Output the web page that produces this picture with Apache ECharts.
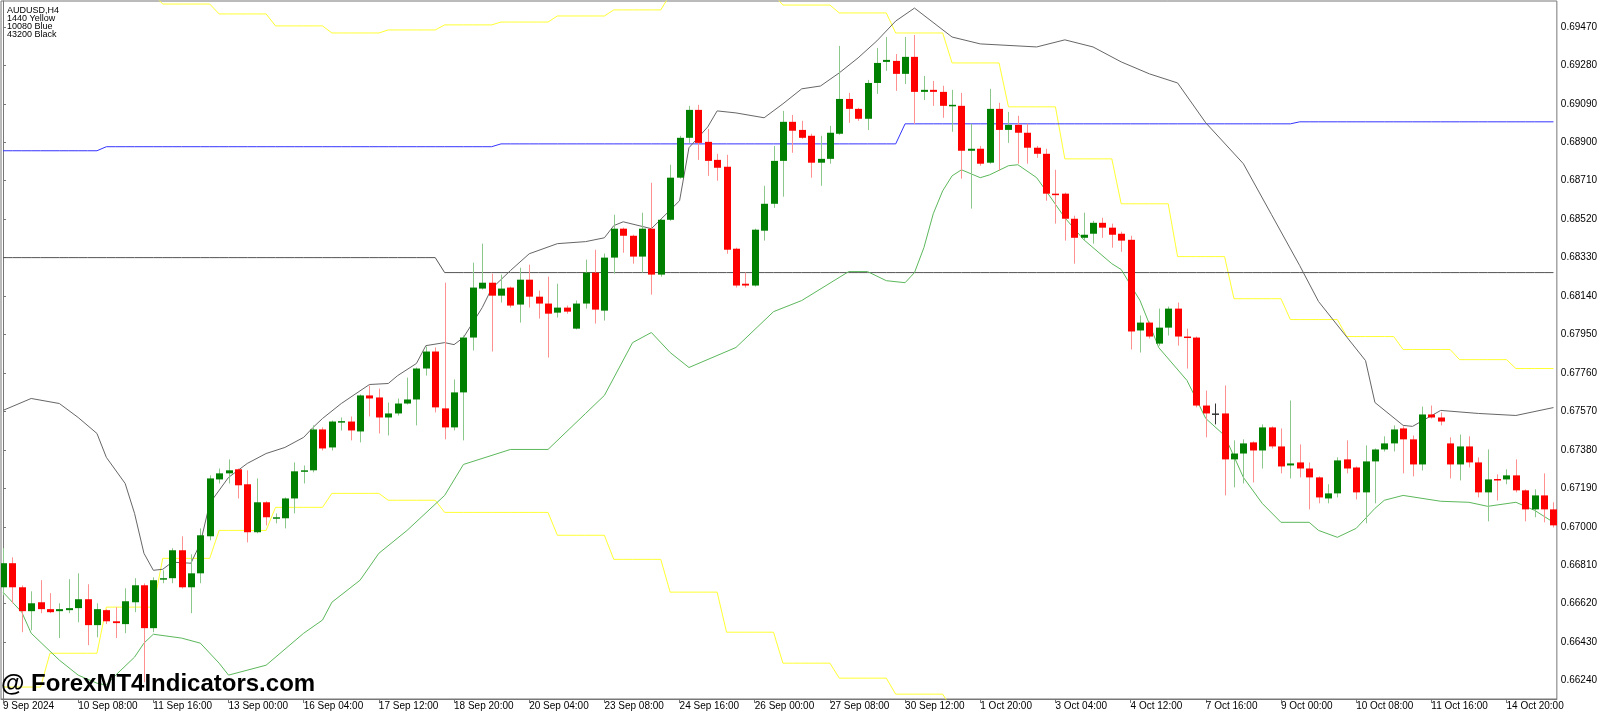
<!DOCTYPE html>
<html><head><meta charset="utf-8">
<script src="https://cdn.jsdelivr.net/npm/echarts@6/dist/echarts.min.js"></script>
<style>html,body{margin:0;padding:0;background:#fff}#c{width:1600px;height:713px}</style>
</head><body><div id="c"></div>
<script>
// [open, close, low, high]
const ohlc = [
[0.66701,0.66820,0.66662,0.66894],[0.66820,0.66701,0.66622,0.66849],[0.66701,0.66583,0.66479,0.66710],[0.66583,0.66622,0.66489,0.66681],
[0.66627,0.66593,0.66573,0.66736],[0.66593,0.66578,0.66573,0.66672],[0.66583,0.66593,0.66450,0.66622],[0.66588,0.66598,0.66573,0.66741],
[0.66598,0.66642,0.66528,0.66770],[0.66642,0.66514,0.66415,0.66716],[0.66514,0.66593,0.66454,0.66622],[0.66588,0.66533,0.66519,0.66593],
[0.66533,0.66524,0.66450,0.66603],[0.66519,0.66632,0.66474,0.66696],[0.66627,0.66711,0.66578,0.66746],[0.66711,0.66499,0.66232,0.66720],
[0.66499,0.66736,0.66479,0.66750],[0.66741,0.66746,0.66721,0.66785],[0.66746,0.66884,0.66721,0.66894],[0.66884,0.66701,0.66695,0.66953],
[0.66701,0.66770,0.66573,0.66864],[0.66770,0.66958,0.66721,0.66992],[0.66953,0.67239,0.66933,0.67254],[0.67234,0.67264,0.67214,0.67288],
[0.67264,0.67279,0.67214,0.67333],[0.67284,0.67205,0.67140,0.67288],[0.67210,0.66973,0.66923,0.67279],[0.66973,0.67121,0.66968,0.67239],
[0.67121,0.67047,0.67007,0.67126],[0.67042,0.67047,0.67017,0.67066],[0.67042,0.67140,0.66992,0.67145],[0.67140,0.67274,0.67066,0.67318],
[0.67274,0.67279,0.67214,0.67303],[0.67279,0.67481,0.67269,0.67501],[0.67481,0.67387,0.67377,0.67491],[0.67392,0.67520,0.67377,0.67525],
[0.67518,0.67522,0.67476,0.67540],[0.67520,0.67476,0.67427,0.67545],[0.67471,0.67649,0.67417,0.67654],[0.67649,0.67634,0.67545,0.67698],
[0.67639,0.67540,0.67461,0.67683],[0.67540,0.67560,0.67451,0.67614],[0.67560,0.67609,0.67550,0.67634],[0.67609,0.67629,0.67604,0.67737],
[0.67629,0.67782,0.67501,0.67787],[0.67782,0.67866,0.67747,0.67891],[0.67866,0.67590,0.67565,0.67886],[0.67585,0.67491,0.67432,0.68206],
[0.67491,0.67664,0.67476,0.67728],[0.67664,0.67935,0.67427,0.67945],[0.67935,0.68182,0.67871,0.68305],[0.68177,0.68206,0.68172,0.68399],
[0.68206,0.68142,0.67866,0.68251],[0.68142,0.68177,0.68108,0.68246],[0.68182,0.68093,0.68083,0.68187],[0.68098,0.68221,0.68009,0.68280],
[0.68221,0.68137,0.68083,0.68295],[0.68137,0.68103,0.68029,0.68167],[0.68103,0.68053,0.67836,0.68236],[0.68058,0.68083,0.68034,0.68201],
[0.68083,0.68063,0.68053,0.68093],[0.67979,0.68103,0.67975,0.68118],[0.68103,0.68256,0.68078,0.68320],[0.68256,0.68073,0.68004,0.68369],
[0.68068,0.68330,0.68019,0.68350],[0.68330,0.68473,0.68251,0.68542],[0.68473,0.68438,0.68354,0.68478],[0.68438,0.68335,0.68300,0.68443],
[0.68335,0.68473,0.68256,0.68552],[0.68473,0.68246,0.68147,0.68700],[0.68246,0.68517,0.68236,0.68522],[0.68517,0.68725,0.68512,0.68789],
[0.68725,0.68922,0.68720,0.68932],[0.68922,0.69060,0.68897,0.69080],[0.69060,0.68897,0.68813,0.69085],[0.68902,0.68808,0.68734,0.68966],
[0.68813,0.68774,0.68710,0.68843],[0.68779,0.68369,0.68349,0.68838],[0.68374,0.68192,0.68182,0.68379],[0.68201,0.68192,0.68182,0.68256],
[0.68192,0.68468,0.68187,0.68473],[0.68463,0.68596,0.68414,0.68685],[0.68596,0.68808,0.68576,0.68882],[0.68808,0.69001,0.68631,0.69055],
[0.69001,0.68957,0.68848,0.69035],[0.68961,0.68922,0.68917,0.69006],[0.68932,0.68799,0.68725,0.68942],[0.68799,0.68818,0.68685,0.68932],
[0.68818,0.68947,0.68794,0.68981],[0.68942,0.69114,0.68937,0.69376],[0.69114,0.69065,0.68996,0.69144],[0.69065,0.69016,0.69006,0.69070],
[0.69016,0.69193,0.68961,0.69208],[0.69193,0.69292,0.69139,0.69366],[0.69297,0.69307,0.69253,0.69420],[0.69302,0.69238,0.69154,0.69336],
[0.69238,0.69322,0.69188,0.69420],[0.69322,0.69149,0.68991,0.69430],[0.69149,0.69159,0.69109,0.69228],[0.69159,0.69149,0.69080,0.69203],
[0.69149,0.69080,0.69021,0.69179],[0.69080,0.69085,0.68952,0.69159],[0.69080,0.68858,0.68720,0.69144],[0.68858,0.68868,0.68572,0.68991],
[0.68868,0.68794,0.68784,0.68882],[0.68799,0.69065,0.68794,0.69164],[0.69065,0.68961,0.68759,0.69095],[0.68961,0.68986,0.68897,0.69050],
[0.68986,0.68947,0.68794,0.69031],[0.68947,0.68873,0.68794,0.68991],[0.68873,0.68843,0.68823,0.68882],[0.68843,0.68646,0.68611,0.68868],
[0.68646,0.68641,0.68498,0.68764],[0.68646,0.68522,0.68414,0.68651],[0.68522,0.68428,0.68300,0.68537],[0.68428,0.68443,0.68414,0.68552],
[0.68448,0.68502,0.68399,0.68512],[0.68502,0.68478,0.68428,0.68527],[0.68478,0.68443,0.68379,0.68498],[0.68448,0.68414,0.68359,0.68458],
[0.68418,0.67965,0.67876,0.68438],[0.67970,0.68009,0.67861,0.68044],[0.68009,0.67940,0.67930,0.68014],[0.67905,0.67984,0.67895,0.68078],
[0.67984,0.68078,0.67945,0.68088],[0.68078,0.67940,0.67895,0.68108],[0.67940,0.67935,0.67782,0.67979],[0.67935,0.67599,0.67590,0.67940],
[0.67599,0.67560,0.67442,0.67673],[0.67560,0.67560,0.67506,0.67609],[0.67560,0.67333,0.67155,0.67698],[0.67333,0.67362,0.67195,0.67427],
[0.67362,0.67412,0.67214,0.67432],[0.67417,0.67377,0.67219,0.67422],[0.67377,0.67491,0.67288,0.67506],[0.67491,0.67397,0.67387,0.67496],
[0.67397,0.67298,0.67264,0.67486],[0.67303,0.67313,0.67239,0.67624],[0.67318,0.67288,0.67244,0.67407],[0.67288,0.67244,0.67086,0.67318],
[0.67244,0.67145,0.67116,0.67249],[0.67140,0.67165,0.67116,0.67210],[0.67165,0.67328,0.67145,0.67343],[0.67333,0.67288,0.67264,0.67427],
[0.67293,0.67170,0.67135,0.67298],[0.67170,0.67323,0.67017,0.67402],[0.67323,0.67382,0.67116,0.67387],[0.67382,0.67412,0.67372,0.67447],
[0.67412,0.67481,0.67372,0.67501],[0.67486,0.67432,0.67264,0.67496],[0.67432,0.67308,0.67249,0.67451],[0.67308,0.67555,0.67278,0.67594],
[0.67555,0.67540,0.67535,0.67599],[0.67540,0.67520,0.67501,0.67565],[0.67412,0.67308,0.67239,0.67442],[0.67308,0.67397,0.67229,0.67456],
[0.67397,0.67318,0.67293,0.67447],[0.67318,0.67170,0.67145,0.67343],[0.67170,0.67234,0.67027,0.67382],[0.67236,0.67232,0.67130,0.67259],
[0.67234,0.67254,0.67210,0.67284],[0.67254,0.67180,0.67170,0.67333],[0.67180,0.67086,0.67027,0.67185],[0.67086,0.67155,0.67047,0.67185],
[0.67155,0.67086,0.67022,0.67264],[0.67086,0.67007,0.66997,0.67121]
];
// band lines: [barIndex, price]
const upperBand = [[0,0.67575],[3,0.67634],[6,0.67609],[8,0.67540],[10,0.67461],[11,0.67343],[13,0.67214],[14,0.67066],[15,0.66869],[16,0.66785],[17,0.66790],[18,0.66825],[20,0.66820],[21,0.66918],[22,0.67116],[24,0.67244],[26,0.67313],[28,0.67362],[30,0.67392],[32,0.67442],[33,0.67491],[34,0.67535],[36,0.67609],[39,0.67703],[41,0.67708],[42,0.67747],[44,0.67807],[45,0.67895],[47,0.67910],[48,0.67900],[49,0.67935],[51,0.68083],[52,0.68177],[54,0.68266],[56,0.68349],[59,0.68399],[62,0.68409],[64,0.68428],[65,0.68488],[66,0.68507],[69,0.68473],[72,0.68611],[73,0.68873],[75,0.68976],[76,0.69055],[78,0.69045],[81,0.69021],[83,0.69090],[85,0.69164],[87,0.69178],[89,0.69243],[91,0.69317],[93,0.69401],[95,0.69499],[97,0.69563],[101,0.69420],[104,0.69386],[110,0.69371],[113,0.69406],[116,0.69371],[119,0.69297],[122,0.69238],[125,0.69193],[128,0.68996],[132,0.68794],[135,0.68542],[138,0.68290],[140,0.68113],[145,0.67821],[146,0.67614],[149,0.67501],[150,0.67496],[153,0.67575],[157,0.67560],[161,0.67550],[165,0.67589]];
const lowerBand = [[0,0.66677],[2,0.66578],[3,0.66474],[6,0.66341],[8,0.66267],[10,0.66227],[11,0.66218],[12,0.66267],[14,0.66356],[15,0.66425],[16,0.66469],[19,0.66450],[21,0.66425],[23,0.66326],[24,0.66267],[28,0.66316],[32,0.66474],[34,0.66539],[35,0.66627],[38,0.66736],[40,0.66869],[43,0.66982],[47,0.67155],[49,0.67308],[54,0.67382],[58,0.67382],[62,0.67560],[64,0.67649],[67,0.67910],[69,0.67960],[71,0.67861],[73,0.67787],[78,0.67886],[82,0.68063],[85,0.68118],[90,0.68261],[92,0.68261],[94,0.68216],[96,0.68206],[97,0.68256],[98,0.68379],[99,0.68547],[100,0.68660],[101,0.68734],[102,0.68764],[104,0.68725],[105,0.68739],[107,0.68784],[108,0.68789],[110,0.68725],[111,0.68660],[113,0.68527],[115,0.68419],[118,0.68300],[119,0.68271],[121,0.68118],[123,0.67885],[126,0.67723],[128,0.67535],[130,0.67451],[132,0.67244],[134,0.67116],[136,0.67022],[139,0.67022],[140,0.66982],[142,0.66948],[144,0.66992],[146,0.67091],[147,0.67131],[149,0.67155],[153,0.67126],[156,0.67121],[158,0.67101],[161,0.67121],[163,0.67081],[165,0.67022]];
// step levels: [startBar, price]
const yellowHigh = [[0,0.6963],[17,0.69583],[23,0.69534],[29,0.69475],[35,0.69440],[41,0.69455],[47,0.69480],[53,0.69494],[59,0.69524],[65,0.69554],[71,0.6963],[83,0.69578],[89,0.69539],[95,0.69440],[101,0.69292],[107,0.69075],[113,0.68818],[119,0.68596],[125,0.68335],[131,0.68127],[137,0.68024],[143,0.67940],[149,0.67876],[155,0.67826],[161,0.67782]];
const yellowLow = [[0,0.66208],[5,0.66375],[11,0.66603],[17,0.66844],[23,0.66982],[29,0.67096],[35,0.67165],[41,0.67131],[47,0.67071],[59,0.66958],[65,0.66839],[71,0.66677],[77,0.66479],[83,0.66326],[89,0.66252],[95,0.66173],[101,0.6610]];
const blueLevel = [[0,0.68858],[11,0.68878],[53,0.68892],[96,0.68991],[138,0.69001]];
const blackLevel = [[0,0.68330],[47,0.68256]];
const xTickIdx = [0,8,16,24,32,40,48,56,64,72,80,88,96,104,112,120,128,136,144,152,160];
const xTickLabels = ['9 Sep 2024','10 Sep 08:00','11 Sep 16:00','13 Sep 00:00','16 Sep 04:00','17 Sep 12:00','18 Sep 20:00','20 Sep 04:00','23 Sep 08:00','24 Sep 16:00','26 Sep 00:00','27 Sep 08:00','30 Sep 12:00','1 Oct 20:00','3 Oct 04:00','4 Oct 12:00','7 Oct 16:00','9 Oct 00:00','10 Oct 08:00','11 Oct 16:00','14 Oct 20:00'];
const yTicks = [0.66240,0.66430,0.66620,0.66810,0.67000,0.67190,0.67380,0.67570,0.67760,0.67950,0.68140,0.68330,0.68520,0.68710,0.68900,0.69090,0.69280,0.69470];

const N = ohlc.length;
function expand(seg){
  const out=[];
  for(let s=0;s<seg.length;s++){
    const end = s+1<seg.length ? seg[s+1][0] : N;
    for(let i=seg[s][0];i<end;i++) out.push([i,seg[s][1]]);
  }
  return out;
}
const chart = echarts.init(document.getElementById('c'));
const F = 'Liberation Sans, Arial, sans-serif';
function lineS(data,color){return {type:'line',data,symbol:'none',lineStyle:{color,width:1},silent:true,z:2,clip:true,animation:false};}
chart.setOption({
  animation:false,
  backgroundColor:'#fff',
  grid:{left:0,right:37,top:1,bottom:14,show:true,borderColor:'#777',borderWidth:1},
  title:{text:'AUDUSD,H4\n1440 Yellow\n10080 Blue\n43200 Black',left:2,top:2,textStyle:{fontFamily:F,fontSize:9,fontWeight:'normal',lineHeight:8,color:'#000'}},
  graphic:[{type:'text',left:1,top:672,z:10,style:{text:'@ ForexMT4Indicators.com',font:'bold 24px '+F,fill:'#000'}}],
  xAxis:{type:'value',min:-0.21,max:165.36,splitLine:{show:false},
    axisLine:{show:true,onZero:false,lineStyle:{color:'#777'}},
    axisTick:{show:true,length:4,customValues:xTickIdx,lineStyle:{color:'#777'}},
    axisLabel:{customValues:xTickIdx,formatter:v=>xTickLabels[xTickIdx.indexOf(Math.round(v))]||'',align:'left',margin:2,fontSize:10,fontFamily:F,color:'#000'}},
  yAxis:{type:'value',position:'right',min:0.66149,max:0.69598,scale:true,splitLine:{show:false},
    axisLine:{show:true,lineStyle:{color:'#777'}},
    axisTick:{show:true,length:3,customValues:yTicks,lineStyle:{color:'#777'}},
    axisLabel:{customValues:yTicks,formatter:v=>v.toFixed(5),margin:4,fontSize:10,fontFamily:F,color:'#000'}},
  series:[
    lineS(expand(yellowHigh),'#ffff33'),
    lineS(expand(yellowLow),'#ffff33'),
    lineS(expand(blueLevel),'#3333ff'),
    lineS(expand(blackLevel),'#555'),
    lineS(upperBand,'#666'),
    lineS(lowerBand,'#5cb85c'),
    {type:'custom',z:5,clip:true,
     data:ohlc.map((d,i)=>[i,d[0],d[1],d[2],d[3]]),
     encode:{x:0,y:[1,2,3,4]},
     renderItem:function(params,api){
       const i=api.value(0),o=api.value(1),c=api.value(2),l=api.value(3),h=api.value(4);
       const po=api.coord([i,o]),pc=api.coord([i,c]),pl=api.coord([i,l]),ph=api.coord([i,h]);
       const up=c>o,dn=c<o;
       const col=up?'#008000':(dn?'#ff0000':'#333');
       const wc=up?'#8cc88c':(dn?'#ff9090':'#333');
       const x=Math.round(po[0])+0.5;
       const top=Math.min(po[1],pc[1]);
       const hg=Math.max(1.5,Math.abs(po[1]-pc[1]));
       return {type:'group',children:[
         {type:'line',shape:{x1:x,y1:ph[1],x2:x,y2:pl[1]},style:{stroke:wc,lineWidth:1}},
         {type:'rect',shape:{x:x-3.5,y:top,width:7,height:hg},style:{fill:col}}
       ]};
     }}
  ]
});
</script></body></html>
